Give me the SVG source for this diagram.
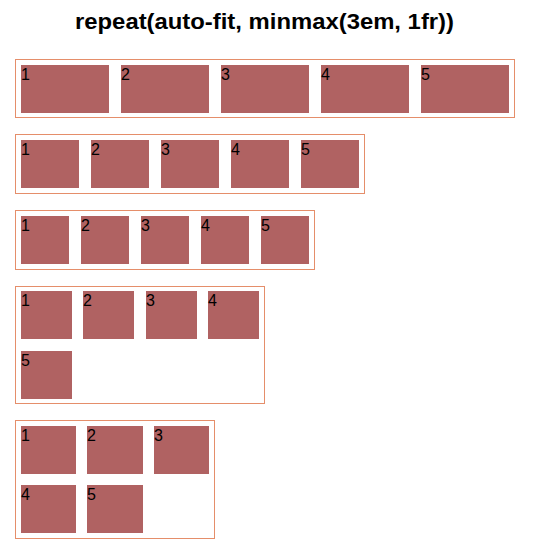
<svg xmlns="http://www.w3.org/2000/svg" width="537" height="551" viewBox="0 0 537 551">
<style>
.box{fill:none;stroke:#e58e6a;stroke-width:1}
.it{fill:#b06262}
.n{font-family:"Liberation Sans",Arial,sans-serif;font-size:16px;fill:#000}
.t{font-family:"Liberation Sans",Arial,sans-serif;font-size:22px;font-weight:bold;fill:#000}
</style>
<rect width="537" height="551" fill="#fff"/>
<text class="t" x="75" y="29" textLength="379" lengthAdjust="spacingAndGlyphs">repeat(auto-fit, minmax(3em, 1fr))</text>
<g id="grid1">
<rect class="box" x="15.5" y="59.5" width="499" height="58"/>
<rect class="it" x="21" y="65" width="88" height="48"/><text class="n" x="21" y="80">1</text>
<rect class="it" x="121" y="65" width="88" height="48"/><text class="n" x="121" y="80">2</text>
<rect class="it" x="221" y="65" width="88" height="48"/><text class="n" x="221" y="80">3</text>
<rect class="it" x="321" y="65" width="88" height="48"/><text class="n" x="321" y="80">4</text>
<rect class="it" x="421" y="65" width="88" height="48"/><text class="n" x="421" y="80">5</text>
</g>
<g id="grid2">
<rect class="box" x="15.5" y="134.5" width="349" height="59"/>
<rect class="it" x="21" y="140" width="58" height="48"/><text class="n" x="21" y="155">1</text>
<rect class="it" x="91" y="140" width="58" height="48"/><text class="n" x="91" y="155">2</text>
<rect class="it" x="161" y="140" width="58" height="48"/><text class="n" x="161" y="155">3</text>
<rect class="it" x="231" y="140" width="58" height="48"/><text class="n" x="231" y="155">4</text>
<rect class="it" x="301" y="140" width="58" height="48"/><text class="n" x="301" y="155">5</text>
</g>
<g id="grid3">
<rect class="box" x="15.5" y="210.5" width="299" height="59"/>
<rect class="it" x="21" y="216" width="48" height="48"/><text class="n" x="21" y="231">1</text>
<rect class="it" x="81" y="216" width="48" height="48"/><text class="n" x="81" y="231">2</text>
<rect class="it" x="141" y="216" width="48" height="48"/><text class="n" x="141" y="231">3</text>
<rect class="it" x="201" y="216" width="48" height="48"/><text class="n" x="201" y="231">4</text>
<rect class="it" x="261" y="216" width="48" height="48"/><text class="n" x="261" y="231">5</text>
</g>
<g id="grid4">
<rect class="box" x="15.5" y="286.5" width="249" height="117"/>
<rect class="it" x="21" y="291" width="51" height="48"/><text class="n" x="21" y="306">1</text>
<rect class="it" x="83" y="291" width="51" height="48"/><text class="n" x="83" y="306">2</text>
<rect class="it" x="146" y="291" width="51" height="48"/><text class="n" x="146" y="306">3</text>
<rect class="it" x="208" y="291" width="51" height="48"/><text class="n" x="208" y="306">4</text>
<rect class="it" x="21" y="351" width="51" height="48"/><text class="n" x="21" y="366">5</text>
</g>
<g id="grid5">
<rect class="box" x="15.5" y="420.5" width="199" height="118"/>
<rect class="it" x="21" y="426" width="55" height="48"/><text class="n" x="21" y="441">1</text>
<rect class="it" x="87" y="426" width="56" height="48"/><text class="n" x="87" y="441">2</text>
<rect class="it" x="154" y="426" width="55" height="48"/><text class="n" x="154" y="441">3</text>
<rect class="it" x="21" y="485" width="55" height="48"/><text class="n" x="21" y="500">4</text>
<rect class="it" x="87" y="485" width="56" height="48"/><text class="n" x="87" y="500">5</text>
</g>
</svg>
